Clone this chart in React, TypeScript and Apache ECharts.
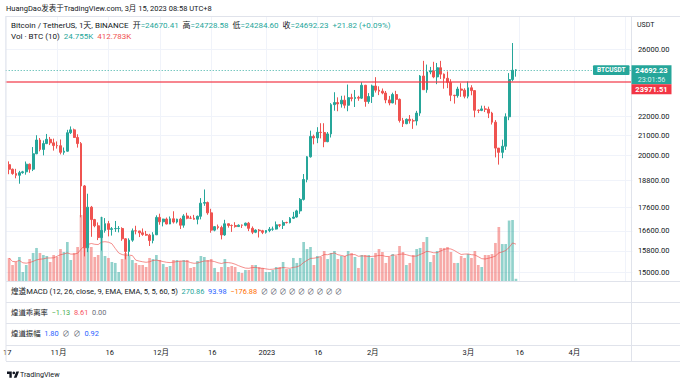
import React, { useEffect, useRef } from 'react';
import * as echarts from 'echarts';

// ---------- data ----------
const AXIS_START = '2022-10-17';
const AXIS_DAYS = 184;
const FIRST_CANDLE_OFFSET = 1; // first candle = 2022-10-18

const opens = [
  19548, 19327, 19123, 19041, 19164, 19205, 19570, 19330, 20080, 20771, 20295, 20591, 20809, 20627,
  20490, 20483, 20151, 20207, 21148, 21299, 20905, 20591, 18547, 15922, 17601, 17070, 16812, 16330,
  16619, 16900, 16662, 16692, 16700, 16700, 16280, 15781, 16226, 16603, 16598, 16522, 16458, 16428,
  16212, 16442, 17163, 16977, 17092, 16885, 17105, 16967, 17089, 16836, 17224, 17128, 17127, 17085,
  17209, 17775, 17803, 17356, 16632, 16776, 16738, 16438, 16895, 16824, 16821, 16778, 16836, 16832,
  16919, 16706, 16547, 16633, 16607, 16542, 16616, 16672, 16675, 16850, 16831, 16950, 16943, 17127,
  17178, 17440, 17943, 18846, 19930, 20955, 20880, 21170, 21161, 20688, 21087, 22666, 22784, 22707,
  22917, 22633, 23061, 23009, 23075, 23031, 23774, 22840, 23125, 23733, 23490, 23431, 23326, 22932,
  22762, 23240, 22963, 21796, 21625, 21862, 21783, 21773, 22199, 24324, 23516, 24569, 24631, 24271,
  24827, 24437, 24189, 23947, 23198, 23175, 23555, 23490, 23141, 23628, 23465, 22354, 22346, 22430,
  22410, 22197, 21705, 20362, 20150, 20455, 21997, 24114, 24670,
];
const closes = [
  19327, 19123, 19041, 19164, 19205, 19570, 19330, 20080, 20771, 20295, 20591, 20809, 20627, 20490,
  20483, 20151, 20207, 21148, 21299, 20905, 20591, 18547, 15922, 17601, 17070, 16812, 16330, 16619,
  16900, 16662, 16692, 16700, 16700, 16280, 15781, 16226, 16603, 16598, 16522, 16458, 16428, 16212,
  16442, 17163, 16977, 17092, 16885, 17105, 16967, 17089, 16836, 17224, 17128, 17127, 17085, 17209,
  17775, 17803, 17356, 16632, 16776, 16738, 16438, 16895, 16824, 16821, 16778, 16836, 16832, 16919,
  16706, 16547, 16633, 16607, 16542, 16616, 16672, 16675, 16850, 16831, 16950, 16943, 17127, 17178,
  17440, 17943, 18846, 19930, 20955, 20880, 21170, 21161, 20688, 21087, 22666, 22784, 22707, 22917,
  22633, 23061, 23009, 23075, 23031, 23774, 22840, 23125, 23733, 23490, 23431, 23326, 22932, 22762,
  23240, 22963, 21796, 21625, 21862, 21783, 21773, 22199, 24324, 23516, 24569, 24631, 24271, 24827,
  24437, 24189, 23947, 23198, 23175, 23555, 23490, 23141, 23628, 23465, 22354, 22346, 22430, 22410,
  22197, 21705, 20362, 20150, 20455, 21997, 24114, 24670, 24692.23,
];
const lows = [
  19091, 19066, 18900, 18650, 19115, 19070, 19157, 19240, 20060, 20200, 20000, 20560, 20515, 20237,
  20338, 20048, 20031, 20180, 21080, 20880, 20387, 17166, 15588, 15754, 16361, 16750, 16229, 15815,
  16528, 16378, 16410, 16560, 16540, 16200, 15476, 15600, 16160, 16460, 16350, 16400, 16400, 15995,
  16100, 16430, 16855, 16787, 16871, 16878, 16906, 16908, 16678, 16733, 17084, 17092, 17070, 16872,
  17080, 17660, 17275, 16527, 16584, 16663, 16256, 16399, 16735, 16560, 16735, 16770, 16721, 16791,
  16592, 16470, 16508, 16333, 16470, 16490, 16547, 16605, 16656, 16753, 16679, 16908, 16911, 17100,
  17155, 17315, 17892, 18714, 19889, 20550, 20612, 20854, 20407, 20659, 20900, 22330, 22300, 22500,
  22460, 22300, 22850, 22535, 22882, 22982, 22550, 22716, 22760, 23352, 23206, 23253, 22745, 22628,
  22745, 22665, 21688, 21451, 21599, 21630, 21351, 21532, 22047, 23505, 23339, 24430, 24192, 23840,
  24148, 23574, 23608, 22862, 22722, 23059, 23106, 23020, 23020, 23195, 21971, 22198, 22303, 22256,
  21927, 21580, 19900, 19549, 19860, 20270, 21813, 24011, 24284.6,
];
const highs = [
  19706, 19360, 19347, 19250, 19250, 19700, 19601, 20414, 21020, 20875, 20750, 21085, 20931, 20845,
  20700, 20800, 20393, 21302, 21480, 21365, 21069, 20667, 18590, 18195, 17655, 17100, 16951, 17190,
  17134, 17015, 16760, 17012, 16800, 16750, 16300, 16300, 16700, 16812, 16600, 16701, 16600, 16483,
  16548, 17250, 17320, 17105, 17157, 17202, 17424, 17107, 17143, 17299, 17360, 17227, 17270, 17241,
  18000, 18387, 17846, 17531, 16796, 16863, 16815, 17061, 16906, 16866, 16960, 16869, 16866, 16944,
  16972, 16785, 16664, 16677, 16644, 16631, 16760, 16778, 16991, 16879, 17041, 16981, 17176, 17398,
  17491, 18000, 19100, 19964, 21258, 21050, 21440, 21650, 21650, 21186, 22750, 23371, 23078, 23165,
  23180, 23816, 23283, 23500, 23165, 23960, 23800, 23320, 23812, 24255, 23715, 23587, 23443, 23158,
  23344, 23452, 23011, 21938, 21906, 22090, 21890, 22322, 24380, 25250, 25021, 24877, 25192, 25121,
  25250, 24476, 24599, 24132, 23218, 23689, 23897, 23600, 24000, 23780, 23476, 22400, 22610, 22603,
  22553, 22268, 21820, 20367, 20792, 22185, 24500, 26386, 24728.58,
];
// daily volume, thousand BTC
const volumesK = [
  258, 179, 213, 269, 101, 179, 246, 314, 370, 314, 291, 280, 213, 291,
  269, 358, 325, 437, 235, 314, 381, 739, 605, 426, 381, 269, 291, 717,
  280, 258, 213, 202, 101, 246, 314, 280, 235, 202, 179, 179, 157, 258,
  246, 291, 235, 190, 157, 168, 235, 235, 224, 235, 235, 146, 157, 224,
  280, 269, 235, 246, 146, 101, 157, 246, 157, 168, 157, 101, 90, 123,
  123, 179, 179, 157, 146, 101, 101, 123, 157, 157, 213, 134, 134, 258,
  202, 258, 437, 358, 381, 179, 280, 269, 336, 246, 314, 336, 246, 280,
  280, 336, 314, 269, 146, 291, 291, 291, 258, 314, 358, 325, 202, 269,
  302, 280, 392, 325, 179, 202, 291, 358, 370, 437, 493, 213, 291, 336,
  370, 370, 381, 325, 202, 202, 280, 258, 302, 258, 336, 179, 157, 291,
  291, 302, 426, 605, 414, 414, 677, 683, 24.755,
];

const priceTicks = [26000, 22000, 21000, 20000, 18800, 17600, 16600, 15800, 15000];
const timeLabelDates = [
  '2022-10-17', '2022-11-01', '2022-11-16', '2022-12-01', '2022-12-16', '2023-01-01',
  '2023-01-16', '2023-02-01', '2023-03-01', '2023-03-16', '2023-04-01', '2023-04-16',
];
const timeLabelTexts = ['17', '11月', '16', '12月', '16', '2023', '16', '2月', '3月', '16', '4月', '16'];
const lastPrice = 24692.23;
const levelPrice = 23971.51;
const countdown = '23:01:56';

// ---------- styles ----------
const UP = '#26a69a';
const DOWN = '#ef5350';
const TXT = '#131722';
const BORDER = '#e0e3eb';
const GRIDC = '#f0f3fa';
const FONT = 'Roboto, "Noto Sans CJK SC", sans-serif';

function addDays(iso: string, n: number): string {
  const d = new Date(iso + 'T00:00:00Z');
  d.setUTCDate(d.getUTCDate() + n);
  return d.toISOString().slice(0, 10);
}

const axisDates: string[] = Array.from({ length: AXIS_DAYS }, (_, i) => addDays(AXIS_START, i));
const labelMap: Record<string, string> = {};
timeLabelDates.forEach((d, i) => (labelMap[d] = timeLabelTexts[i]));

echarts.graphic.registerShape(
  'tvlogo',
  echarts.graphic.extendPath('M14 22H7V11H0V4h14v18zM28 22h-8l7.5-18h8L28 22z', {})
);

export default function App() {
  const ref = useRef<HTMLDivElement>(null);
  useEffect(() => {
    if (!ref.current) return;
    const chart = echarts.init(ref.current, undefined, { renderer: 'svg' });

    const candleData: any[] = axisDates.map(() => '-');
    const volData: any[] = axisDates.map(() => '-');
    const maData: any[] = axisDates.map(() => '-');
    for (let k = 0; k < opens.length; k++) {
      const i = k + FIRST_CANDLE_OFFSET;
      candleData[i] = [opens[k], closes[k], lows[k], highs[k]];
      const up = closes[k] >= opens[k];
      volData[i] = {
        value: volumesK[k],
        itemStyle: { color: up ? 'rgba(38,166,154,0.5)' : 'rgba(239,83,80,0.5)' },
      };
      const from = Math.max(0, k - 9);
      let s = 0;
      for (let j = from; j <= k; j++) s += volumesK[j];
      maData[i] = s / (k - from + 1);
    }

    const gl = 5.7;
    const gr = 47.6;
    const catAxis = (gridIndex: number, extra: any) => ({
      type: 'category',
      gridIndex,
      data: axisDates,
      boundaryGap: false,
      axisLine: { show: false },
      axisTick: { show: false },
      axisLabel: { show: false },
      splitLine: { show: false },
      ...extra,
    });

    chart.setOption({
      animation: false,
      grid: [
        { left: gl, right: gr, top: 16, bottom: 102 },
        { left: gl, right: gr, top: 181, bottom: 102 },
        { left: gl, right: gr, top: 323, bottom: 38 },
      ],
      xAxis: [
        catAxis(0, {
          splitLine: {
            show: true,
            interval: (_i: number, v: string) => !!labelMap[v],
            lineStyle: { color: GRIDC, width: 1 },
          },
        }),
        catAxis(1, {}),
        catAxis(2, {
          axisLabel: {
            show: true,
            interval: (_i: number, v: string) => !!labelMap[v],
            formatter: (v: string) => labelMap[v] || '',
            color: TXT,
            fontSize: 7.5,
            fontFamily: FONT,
            margin: 4,
            hideOverlap: false,
            showMinLabel: true,
            showMaxLabel: false,
          },
        }),
      ],
      yAxis: [
        {
          type: 'log',
          logBase: 10,
          gridIndex: 0,
          position: 'right',
          min: 14671,
          max: 28205,
          axisLine: { show: false },
          axisTick: { show: false, customValues: priceTicks },
          axisLabel: {
            show: true,
            customValues: priceTicks,
            formatter: (v: number) => Number(v).toFixed(2),
            color: TXT,
            fontSize: 7.5,
            fontFamily: FONT,
            margin: 5.5,
            align: 'left',
          },
          splitLine: { show: true, lineStyle: { color: GRIDC, width: 1 } },
        },
        {
          type: 'value',
          gridIndex: 1,
          min: 0,
          max: 1120,
          show: false,
          splitLine: { show: false },
        },
        { type: 'value', gridIndex: 2, show: false, splitLine: { show: false } },
      ],
      series: [
        {
          type: 'bar',
          xAxisIndex: 1,
          yAxisIndex: 1,
          data: volData,
          barWidth: '78%',
          z: 1,
        },
        {
          type: 'line',
          xAxisIndex: 1,
          yAxisIndex: 1,
          data: maData,
          showSymbol: false,
          lineStyle: { color: '#ef5350', opacity: 0.65, width: 1 },
          z: 2,
        },
        {
          type: 'candlestick',
          xAxisIndex: 0,
          yAxisIndex: 0,
          data: candleData,
          barWidth: '68%',
          z: 3,
          itemStyle: {
            color: UP,
            color0: DOWN,
            borderColor: UP,
            borderColor0: DOWN,
            borderWidth: 1,
          },
          markLine: {
            silent: true,
            symbol: 'none',
            label: { show: false },
            data: [
              { yAxis: levelPrice, lineStyle: { color: '#f23645', width: 1.5, type: 'solid', opacity: 0.8 } },
              { yAxis: lastPrice, lineStyle: { color: UP, width: 1, type: [1, 2], opacity: 0.9 } },
            ],
          },
        },
      ],
    });

    const yCur = chart.convertToPixel({ yAxisIndex: 0 } as any, lastPrice) as number;

    const line = (x1: number, y1: number, x2: number, y2: number) => ({
      type: 'line',
      shape: { x1, y1, x2, y2 },
      style: { stroke: BORDER, lineWidth: 1 },
      silent: true,
      z: 50,
    });
    const txt = (x: number, y: number, text: string, rich: any, extra: any = {}) => ({
      type: 'text',
      x,
      y,
      silent: true,
      z: 90,
      style: { text, rich, verticalAlign: 'middle', ...extra },
    });
    const rs = (color: string, size = 8, weight: any = 'normal') => ({
      fill: color,
      fontSize: size,
      fontFamily: FONT,
      fontWeight: weight,
    });
    const ind = 7.4;

    chart.setOption({
      graphic: [
        // frame
        line(6, 16.5, 680, 16.5),
        line(6, 16, 6, 361),
        line(631.5, 16, 631.5, 361),
        line(6, 281.5, 680, 281.5),
        line(6, 302.5, 680, 302.5),
        line(6, 323.5, 680, 323.5),
        line(6, 345.5, 680, 345.5),
        line(6, 361.5, 680, 361.5),
        // header
        txt(6, 8, '{a|HuangDao发表于TradingView.com, 3月 15, 2023 08:58 UTC+8}', { a: rs(TXT, 7.5) }),
        // legend line 1
        txt(
          11,
          25,
          '{t|Bitcoin / TetherUS, 1天, BINANCE}{d|  开}{g|=24670.41}{d|  高}{g|=24728.58}{d|  低}{g|=24284.60}{d|  收}{g|=24692.23}{g|  +21.82 (+0.09%)}',
          { t: rs(TXT, 8), d: rs(TXT), g: rs(UP) }
        ),
        txt(11, 36, '{d|Vol · BTC (10)}{g|  24.755K}{r|  412.783K}', { d: rs(TXT), g: rs(UP), r: rs(DOWN) }),
        // indicator panes
        txt(
          11,
          291.5,
          '{d|煌道MACD (12, 26, close, 9, EMA, EMA, 5, 5, 60, 5)}{t|  270.86}{b|  93.98}{o|  −176.88}{n|  ∅ ∅ ∅ ∅ ∅ ∅ ∅ ∅ ∅}',
          { d: rs(TXT, 7.6), t: rs('#26a69a', ind), b: rs('#2962ff', ind), o: rs('#ff6d00', ind), n: rs('#6a6d78', ind) }
        ),
        txt(11, 312.5, '{d|煌道乖离率}{g|  −1.13}{r|  8.61}{n|  0.00}', {
          d: rs(TXT, ind),
          g: rs('#4caf50', ind),
          r: rs('#f7525f', ind),
          n: rs('#6a6d78', ind),
        }),
        txt(11, 333.5, '{d|煌道振幅}{b|  1.80}{n|  ∅  ∅}{b|  0.92}', {
          d: rs(TXT, ind),
          b: rs('#2962ff', ind),
          n: rs('#6a6d78', ind),
        }),
        // price axis unit
        txt(637, 25, '{a|USDT}', { a: rs(TXT, 7) }),
        // tags
        {
          type: 'rect',
          shape: { x: 593, y: yCur - 4.6, width: 36.5, height: 9.6, r: 1 },
          style: { fill: UP },
          z: 70,
          silent: true,
        },
        txt(611.2, yCur + 0.3, '{a|BTCUSDT}', { a: rs('#ffffff', 6.5, 'bold') }, { align: 'center' }),
        {
          type: 'rect',
          shape: { x: 631.5, y: yCur - 4.6, width: 40, height: 18.8 },
          style: { fill: UP },
          z: 70,
          silent: true,
        },
        txt(651.5, yCur + 0.3, '{a|' + lastPrice.toFixed(2) + '}', { a: rs('#ffffff', 7.5, 'bold') }, { align: 'center' }),
        txt(651.5, yCur + 9.6, '{a|' + countdown + '}', { a: rs('#d8f1ee', 7.2) }, { align: 'center' }),
        {
          type: 'rect',
          shape: { x: 631.5, y: yCur + 14.2, width: 40, height: 10 },
          style: { fill: '#f23645' },
          z: 70,
          silent: true,
        },
        txt(651.5, yCur + 19.3, '{a|' + levelPrice.toFixed(2) + '}', { a: rs('#ffffff', 7.5, 'bold') }, { align: 'center' }),
        // footer logo
        {
          type: 'tvlogo',
          x: 7,
          y: 370.2,
          scaleX: 0.34,
          scaleY: 0.34,
          style: { fill: TXT },
          silent: true,
        },
        {
          type: 'circle',
          shape: { cx: 7 + 20 * 0.34, cy: 370.2 + 8 * 0.34, r: 4 * 0.34 },
          style: { fill: TXT },
          silent: true,
        },
        txt(20, 374.5, '{a|TradingView}', { a: rs(TXT, 7.2) }),
      ],
    });

    return () => chart.dispose();
  }, []);

  return (
    <div
      ref={ref}
      style={{ position: 'absolute', left: 0, top: 0, width: 680, height: 383, background: '#ffffff' }}
    />
  );
}
